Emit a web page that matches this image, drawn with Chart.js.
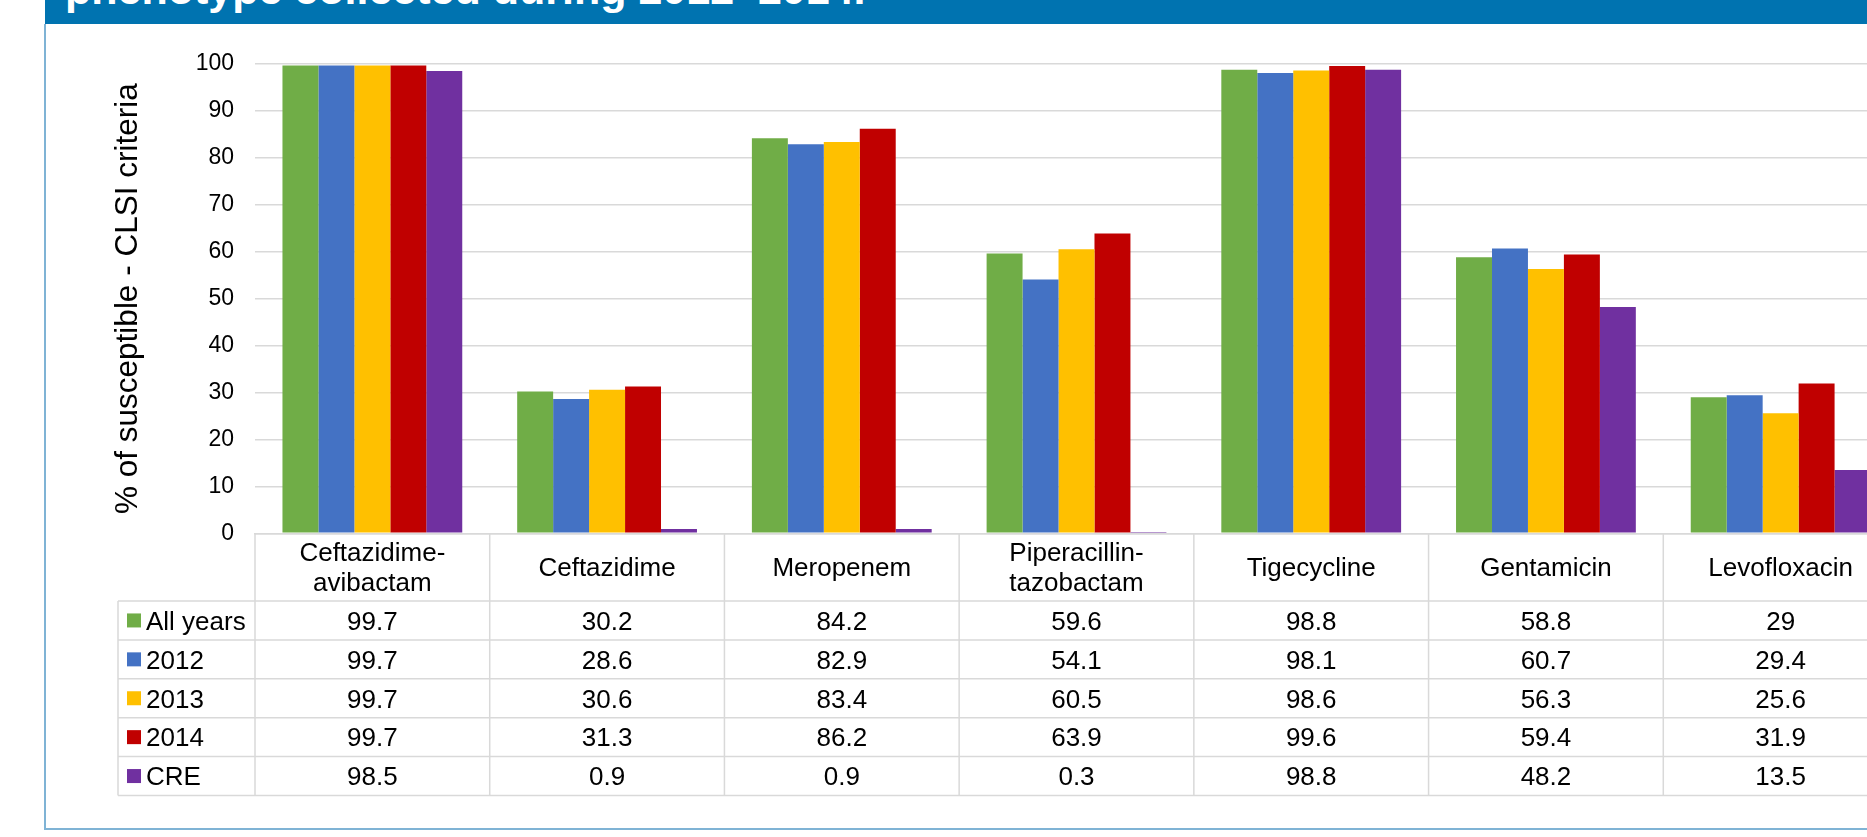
<!DOCTYPE html>
<html>
<head>
<meta charset="utf-8">
<script src="https://cdn.jsdelivr.net/npm/chart.js@4.4.1/dist/chart.umd.min.js"></script>
<style>
  html, body { margin: 0; padding: 0; background: #ffffff; overflow: hidden; width: 1867px; height: 837px; }
  #band { position: absolute; left: 45px; top: 0; width: 1822px; height: 24px; background: #0073b0; overflow: hidden; }
  #band span { position: absolute; left: 20px; top: -35px; line-height: 43px; font: bold 43px "Liberation Sans", Arial, sans-serif; color: #ffffff; white-space: nowrap; }
  #panel { position: absolute; left: 44px; top: 24px; width: 1840px; height: 806px; box-sizing: border-box; border-left: 2px solid #7fb3d5; border-bottom: 2px solid #7fb3d5; }
  #chart { position: absolute; left: 0; top: 0; }
</style>
</head>
<body>
<div id="band"><span>phenotype collected during 2012–2014.</span></div>
<div id="panel"></div>
<canvas id="chart" width="1960" height="837" style="width:1960px;height:837px"></canvas>
<script>
// Antimicrobial agents (table header labels, split where the cell wraps)
const agents = [
  ['Ceftazidime-', 'avibactam'],
  'Ceftazidime',
  'Meropenem',
  ['Piperacillin-', 'tazobactam'],
  'Tigecycline',
  'Gentamicin',
  'Levofloxacin'
];

// % susceptible per agent
const allYears = [99.7, 30.2, 84.2, 59.6, 98.8, 58.8, 29];
const y2012    = [99.7, 28.6, 82.9, 54.1, 98.1, 60.7, 29.4];
const y2013    = [99.7, 30.6, 83.4, 60.5, 98.6, 56.3, 25.6];
const y2014    = [99.7, 31.3, 86.2, 63.9, 99.6, 59.4, 31.9];
const cre      = [98.5, 0.9, 0.9, 0.3, 98.8, 48.2, 13.5];

const seriesNames = ['All years', '2012', '2013', '2014', 'CRE'];
const yTicks = [0, 10, 20, 30, 40, 50, 60, 70, 80, 90, 100];

const FONT = '"Liberation Sans", Arial, sans-serif';
const GRID = '#d9d9d9';
const colors = ['#70ad47', '#4472c4', '#ffc000', '#c00000', '#7030a0'];

const W = 1960, H = 837;
const plotTop = 64, plotBottom = 533.3, plotRight = 1898;

// Data table drawn under the plot, columns aligned with the category scale
const HEADER_H = 67.7, ROW_H = 38.9, LEGEND_LEFT = 118, TABLE_FONT = 26;
const dataTable = {
  id: 'dataTable',
  afterDraw(chart) {
    const { ctx, chartArea } = chart;
    const x = chart.scales.x;
    const n = chart.data.labels.length;
    const cw = x.width / n;
    const top = chartArea.bottom;
    const headBottom = top + HEADER_H;
    const sets = chart.data.datasets;
    const bottom = headBottom + ROW_H * sets.length;
    const capMid = TABLE_FONT * 0.358;

    ctx.save();
    ctx.strokeStyle = GRID;
    ctx.lineWidth = 1.5;
    ctx.beginPath();
    for (let k = 0; k <= sets.length; k++) {
      const yy = headBottom + k * ROW_H;
      ctx.moveTo(LEGEND_LEFT, yy); ctx.lineTo(x.right, yy);
    }
    ctx.moveTo(LEGEND_LEFT, headBottom); ctx.lineTo(LEGEND_LEFT, bottom);
    for (let i = 0; i <= n; i++) {
      const xx = x.left + i * cw;
      ctx.moveTo(xx, top); ctx.lineTo(xx, bottom);
    }
    ctx.stroke();

    ctx.fillStyle = '#000000';
    ctx.font = TABLE_FONT + 'px ' + FONT;
    ctx.textBaseline = 'alphabetic';
    ctx.textAlign = 'center';
    // header cells
    const headMid = (top + headBottom) / 2;
    chart.data.labels.forEach((lab, i) => {
      const cx = x.getPixelForValue(i);
      const lines = Array.isArray(lab) ? lab : [lab];
      const lh = 30;
      lines.forEach((t, j) => {
        const cy = headMid + (j - (lines.length - 1) / 2) * lh;
        ctx.fillText(t, cx, cy + capMid);
      });
    });
    // value rows with legend keys
    sets.forEach((ds, r) => {
      const cy = headBottom + r * ROW_H + ROW_H / 2;
      ctx.fillStyle = ds.backgroundColor;
      ctx.fillRect(127, cy - 7, 14, 14);
      ctx.fillStyle = '#000000';
      ctx.textAlign = 'left';
      ctx.fillText(ds.label, 146, cy + capMid);
      ctx.textAlign = 'center';
      ds.data.forEach((v, i) => {
        ctx.fillText(String(v), x.getPixelForValue(i), cy + capMid);
      });
    });
    ctx.restore();
  }
};

const values = [allYears, y2012, y2013, y2014, cre];

new Chart(document.getElementById('chart'), {
  type: 'bar',
  data: {
    labels: agents,
    datasets: values.map((d, i) => ({
      label: seriesNames[i],
      data: d,
      backgroundColor: colors[i],
      borderWidth: 0,
      categoryPercentage: 0.766,
      barPercentage: 1
    }))
  },
  options: {
    responsive: false,
    animation: false,
    devicePixelRatio: 1,
    layout: { padding: { left: 109, right: W - plotRight, top: plotTop, bottom: H - plotBottom } },
    plugins: { legend: { display: false }, tooltip: { enabled: false }, title: { display: false } },
    scales: {
      x: {
        ticks: { display: false },
        grid: { display: false, drawTicks: false },
        border: { display: true, color: GRID, width: 1.5 },
        afterFit: s => { s.height = 0; }
      },
      y: {
        min: 0, max: 100,
        afterBuildTicks: s => { s.ticks = yTicks.map(v => ({ value: v })); },
        ticks: { padding: 21, color: '#000000', font: { family: FONT, size: 23 } },
        grid: { color: GRID, lineWidth: 1.5, drawTicks: false },
        border: { display: false },
        title: {
          display: true,
          text: '% of susceptible - CLSI criteria',
          color: '#000000',
          font: { family: FONT, size: 31.5 },
          padding: { top: 0, bottom: 0 }
        },
        afterFit: s => { s.width = 146; }
      }
    }
  },
  plugins: [dataTable]
});
</script>
</body>
</html>
